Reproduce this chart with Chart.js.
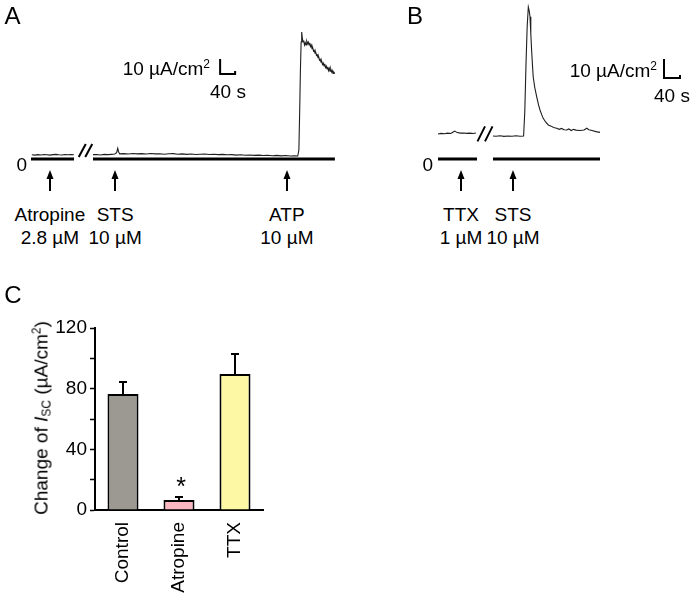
<!DOCTYPE html>
<html>
<head>
<meta charset="utf-8">
<script src="https://cdn.jsdelivr.net/npm/chart.js@4.4.1/dist/chart.umd.min.js"></script>
<style>
  body { margin: 0; background: #fff; }
  #fig { position: relative; width: 692px; height: 595px; overflow: hidden;
         font-family: "Liberation Sans", Arial, sans-serif; color: #000; background: #fff; }
  canvas { position: absolute; }
  .t { position: absolute; font-size: 19px; line-height: 1; white-space: nowrap; z-index: 2; }
  .t sup { font-size: 12px; vertical-align: 7px; line-height: 0; }
  .t sub { font-size: 12px; vertical-align: -3px; line-height: 0; }
  .panel { font-size: 24px; }
  .star { font-size: 25px; }
</style>
</head>
<body>
<div id="fig">
  <canvas id="traceA" width="345" height="200" style="left:0;top:0"></canvas>
  <canvas id="traceB" width="292" height="200" style="left:400px;top:0"></canvas>
  <canvas id="bars" width="240" height="285" style="left:40px;top:310px"></canvas>
</div>
<script>
// ---- panel A trace: [time s, Isc µA/cm2] ----
const traceA1 = [[85,2.8],[93,2.6],[101,2.9],[109,2.7],[117,3.0],[125,2.8],[133,2.6],[141,2.9],
  [149,3.1],[157,2.8],[165,2.7],[173,3.0],[181,2.8],[189,2.9],[197,2.8]];
const traceA2 = [[248,2.9],[258,3.0],[268,2.7],[278,3.1],[288,2.9],[298,3.1],[306,3.3],[311,4.2],
  [314,7.1],[316,5.0],[319,3.4],[330,3.6],[342,3.3],[354,3.7],[366,3.4],[378,3.6],[390,3.3],
  [402,3.7],[414,3.4],[426,3.5],[438,3.2],[450,3.5],[462,3.6],[474,3.2],[486,3.4],[498,3.1],
  [510,3.3],[522,3.0],[534,3.2],[546,3.3],[558,3.0],[570,3.2],[582,2.9],[594,3.1],[606,2.8],
  [618,2.9],[630,2.6],[642,2.8],[654,2.5],[666,2.7],[678,2.4],[690,2.6],[702,2.3],[714,2.5],
  [726,2.2],[738,2.4],[750,2.1],[762,2.3],[774,2.0],[786,2.2],[794,2.0],
  [797,6],[799,30],[801,58],[803,78],[804.5,84.7],[806,81],[808,78],[810,79],[812,76],[814,77.5],
  [816,76],[818,78.5],[820,77],[822,78],[824,76],[826,77.5],[828,75],[830,76],[832,73.5],[834,74],
  [836,72],[838,72.5],[840,70.5],[842,71],[844,69],[846,69.5],[848,67.5],[850,68],[852,66],
  [854,66.5],[856,64.5],[858,65],[860,63],[862,64],[864,62],[866,63.5],[868,61],[870,62],[872,60],
  [874,61.5],[876,59],[878,60.5],[880,58.5],[882,60],[884,58],[886,59],[888,57],[890,58],[893,57]];
const zeroA = [[82.7,197.3],[248,893]];
const drugsA = ['Atropine','STS','ATP'];
const dosesA = ['2.8 µM','10 µM','10 µM'];
const drugTimesA = [133, 307, 765];

// ---- panel B trace ----
const traceB1 = [[95,13.2],[103,13.5],[111,13.3],[119,13.6],[127,13.4],[133,14.2],[137,14.7],
  [143,13.9],[151,13.6],[159,13.7],[167,13.5],[175,13.6],[183,13.4],[190,13.7]];
const traceB2 = [[232.5,12.1],[240,12.0],[250,12.2],[260,11.9],[270,12.1],[280,12.0],[290,12.2],
  [300,12.0],[309,12.1],[312,25],[315,50],[318,70],[320.8,80],[323,78],[325,74.9],[327,66],
  [329,57.4],[331,50],[333,43.3],[337,37.5],[341.7,32.8],[346,28.8],[350,25.8],[354,23.5],
  [358,21.4],[364,19.5],[370.8,17.9],[378,17.3],[384,16.6],[391.7,16.2],[398,15.6],[404,16.1],
  [410,15.4],[416.7,15.3],[422,15.8],[428,15.0],[434,15.6],[440,15.2],[450,15.0],[460,15.3],
  [467,16.2],[472,15.4],[480,15.0],[490,14.4],[500,14.0]];
const zeroB = [[95,192.5],[232.5,500]];
const drugsB = ['TTX','STS'];
const dosesB = ['1 µM','10 µM'];
const drugTimesB = [152.5, 282.5];

// ---- panel C bars ----
const groups = ['Control','Atropine','TTX'];
const meanChange = [76.5, 6.6, 89.7];
const semChange = [7.9, 2.0, 13.2];
const barColors = ['#9c9892','#f9b6c1','#fcf8a4'];

const FONT = '"Liberation Sans", Arial, sans-serif';
const fig = document.getElementById('fig');

function addText(html, x, y, cls, anchor) {
  const d = document.createElement('div');
  d.className = 't ' + (cls || '');
  d.innerHTML = html;
  d.style.left = x + 'px';
  d.style.top = y + 'px';
  const ax = anchor === 'right' ? '-100%' : anchor === 'left' ? '0' : '-50%';
  d.style.transform = 'translate(' + ax + ', -50%)';
  fig.appendChild(d);
  return d;
}

function pts(arr) { return arr.map(p => ({x: p[0], y: p[1]})); }

// arrows + "//" break drawn on the trace canvas
function traceMarks(cfg) {
  return {
    id: 'traceMarks',
    afterDraw(chart) {
      const {ctx, scales: {x, y}} = chart;
      ctx.save();
      ctx.fillStyle = '#000';
      ctx.strokeStyle = '#000';
      ctx.lineWidth = 2;
      cfg.arrows.forEach(t => {
        const px = Math.round(x.getPixelForValue(t));
        ctx.beginPath();
        ctx.moveTo(px, cfg.arrowTop + 7);
        ctx.lineTo(px, cfg.arrowBottom);
        ctx.stroke();
        ctx.beginPath();
        ctx.moveTo(px, cfg.arrowTop);
        ctx.lineTo(px - 3.5, cfg.arrowTop + 9);
        ctx.lineTo(px + 3.5, cfg.arrowTop + 9);
        ctx.closePath();
        ctx.fill();
      });
      const bx = x.getPixelForValue(cfg.breakAt[0]);
      const by = y.getPixelForValue(cfg.breakAt[1]);
      [-1, 1].forEach(s => {
        const cx = bx + s * cfg.breakGap / 2;
        ctx.beginPath();
        ctx.moveTo(cx - cfg.breakW / 2, by + cfg.breakH / 2);
        ctx.lineTo(cx + cfg.breakW / 2, by - cfg.breakH / 2);
        ctx.stroke();
      });
      ctx.restore();
    }
  };
}

function traceChart(id, segs, zeros, bar, xMax, yMin, yMax, marks) {
  const datasets = [];
  zeros.forEach(z => datasets.push({
    data: [{x: z[0], y: 0}, {x: z[1], y: 0}],
    borderColor: '#000', borderWidth: 3, borderCapStyle: 'butt'
  }));
  segs.forEach(s => datasets.push({ data: pts(s), borderColor: '#1e1e1e', borderWidth: 1.1 }));
  // scale bar: 10 µA/cm2 by 40 s
  datasets.push({
    data: [{x: bar.t, y: bar.v + 10}, {x: bar.t, y: bar.v}, {x: bar.t + 40, y: bar.v}, {x: bar.t + 40, y: bar.v + bar.tick}],
    borderColor: '#000', borderWidth: 2, borderJoinStyle: 'miter'
  });
  datasets.forEach(d => { d.showLine = true; d.pointRadius = 0; d.tension = 0; });
  return new Chart(document.getElementById(id), {
    type: 'scatter',
    data: { datasets },
    options: {
      responsive: false, animation: false, devicePixelRatio: 1,
      layout: { padding: 0 },
      plugins: { legend: { display: false }, tooltip: { enabled: false } },
      scales: {
        x: { type: 'linear', display: false, min: 0, max: xMax },
        y: { display: false, min: yMin, max: yMax }
      }
    },
    plugins: [traceMarks(marks)]
  });
}

const chartA = traceChart('traceA', [traceA1, traceA2], zeroA, {t: 587, v: 56.7, tick: 2},
  920, -82 / 3, 106,
  {arrows: drugTimesA, arrowTop: 170, arrowBottom: 191, breakAt: [228, 5.7], breakGap: 6.5, breakW: 7, breakH: 13});

const chartB = traceChart('traceB', [traceB1, traceB2], zeroB, {t: 660, v: 42.6, tick: 1.6},
  730, -41 / 1.9, 159 / 1.9,
  {arrows: drugTimesB, arrowTop: 170, arrowBottom: 191, breakAt: [212.5, 13.2], breakGap: 7.5, breakW: 7.5, breakH: 15});

// drug labels under arrows
drugsA.forEach((d, i) => {
  const px = chartA.scales.x.getPixelForValue(drugTimesA[i]);
  addText(d, px, 214);
  addText(dosesA[i], px, 237);
});
drugsB.forEach((d, i) => {
  const px = 400 + chartB.scales.x.getPixelForValue(drugTimesB[i]);
  addText(d, px, 214);
  addText(dosesB[i], px, 237);
});

// error bars
const errorBars = {
  id: 'errorBars',
  afterDatasetsDraw(chart) {
    const meta = chart.getDatasetMeta(0);
    const y = chart.scales.y;
    const ctx = chart.ctx;
    ctx.save();
    ctx.strokeStyle = '#000';
    ctx.lineWidth = 2;
    meta.data.forEach((bar, i) => {
      const top = y.getPixelForValue(meanChange[i] + semChange[i]);
      ctx.beginPath();
      ctx.moveTo(bar.x, bar.y);
      ctx.lineTo(bar.x, top);
      ctx.moveTo(bar.x - 4, top);
      ctx.lineTo(bar.x + 4, top);
      ctx.stroke();
    });
    ctx.restore();
  }
};

new Chart(document.getElementById('bars'), {
  type: 'bar',
  data: {
    labels: groups,
    datasets: [{
      data: meanChange,
      backgroundColor: barColors,
      borderColor: '#000',
      borderWidth: 2,
      barPercentage: 0.554,
      categoryPercentage: 1
    }]
  },
  options: {
    responsive: false, animation: false, devicePixelRatio: 1,
    layout: { padding: { top: 18, right: 17, left: 0, bottom: 0 } },
    plugins: { legend: { display: false }, tooltip: { enabled: false } },
    scales: {
      x: {
        grid: { display: false, drawTicks: false },
        border: { display: true, color: '#000', width: 2 },
        ticks: { color: '#000', font: { family: FONT, size: 19 }, minRotation: 90, maxRotation: 90, padding: 12, autoSkip: false },
        afterFit(s) { s.height = 85; }
      },
      y: {
        min: 0, max: 120,
        ticks: { stepSize: 20, color: '#000', font: { family: FONT, size: 19 }, padding: 3,
                 callback: v => (v % 40 === 0 ? v : '') },
        grid: { drawOnChartArea: false, tickLength: 5, tickColor: '#000', tickWidth: 1.5 },
        border: { display: true, color: '#000', width: 2 },
        afterFit(s) { s.width = 55; }
      }
    }
  },
  plugins: [errorBars]
});

// static text
addText('A', 12.5, 15.5, 'panel');
addText('B', 415, 15.5, 'panel');
addText('C', 13, 295, 'panel');
addText('10 µA/cm<sup>2</sup>', 210, 67.5, '', 'right');
addText('40 s', 228, 91);
addText('0', 27, 163.5, '', 'right');
addText('10 µA/cm<sup>2</sup>', 657, 70, '', 'right');
addText('40 s', 672, 95);
addText('0', 433, 163.5, '', 'right');
addText('*', 181, 486, 'star');
const yt = addText('Change of <i>I</i><sub>SC</sub> (µA/cm<sup>2</sup>)', 41, 418);
yt.style.transform = 'translate(-50%, -50%) rotate(-90deg)';
</script>
</body>
</html>
